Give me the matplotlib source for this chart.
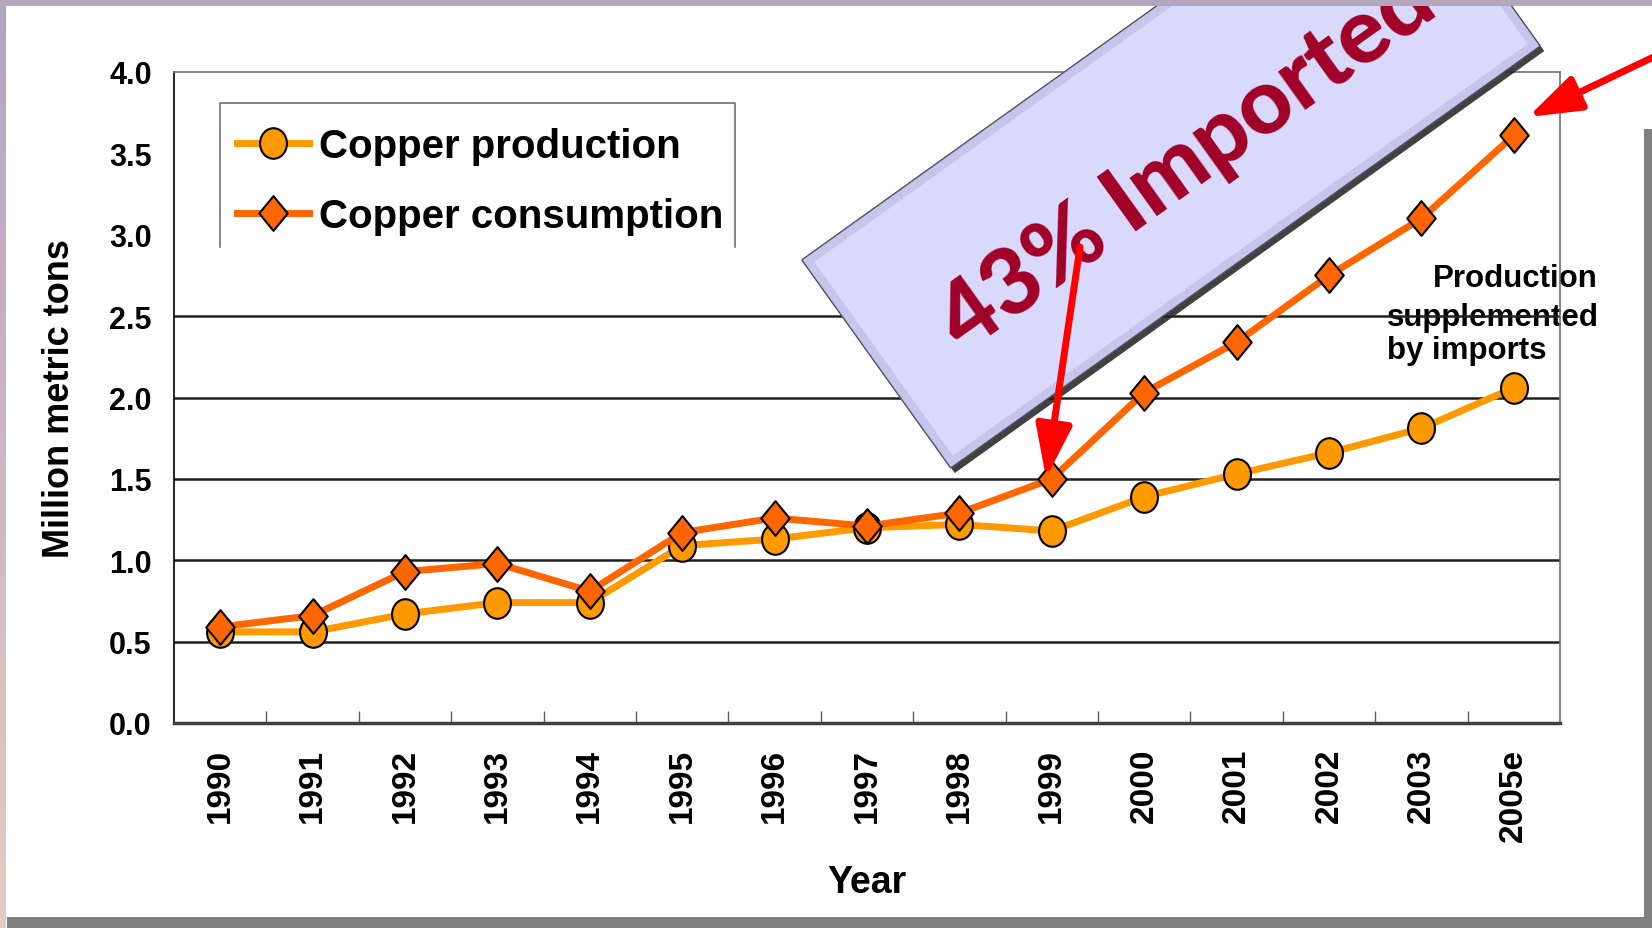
import numpy as np
import matplotlib
matplotlib.use('Agg')
import matplotlib.pyplot as plt
from matplotlib.patches import Polygon, Rectangle, FancyArrowPatch
from matplotlib.path import Path
from matplotlib.transforms import IdentityTransform
from matplotlib.colors import LinearSegmentedColormap

# values (million metric tons)
years = ['1990', '1991', '1992', '1993', '1994', '1995', '1996', '1997',
         '1998', '1999', '2000', '2001', '2002', '2003', '2005e']
production = [0.56, 0.56, 0.67, 0.74, 0.74, 1.09, 1.13, 1.20,
              1.22, 1.18, 1.39, 1.53, 1.66, 1.81, 2.06]
consumption = [0.59, 0.66, 0.93, 0.98, 0.81, 1.17, 1.26, 1.21,
               1.29, 1.50, 2.03, 2.34, 2.75, 3.10, 3.61]
y_ticks = [0.0, 0.5, 1.0, 1.5, 2.0, 2.5, 3.0, 3.5, 4.0]
grid_levels = [0.5, 1.0, 1.5, 2.0, 2.5]

W, H = 1652, 929
NARROW = ['Liberation Sans Narrow', 'Liberation Sans', 'DejaVu Sans']
WIDE = ['Liberation Sans', 'DejaVu Sans']
plt.rcParams['font.family'] = WIDE

fig = plt.figure(figsize=(W / 100, H / 100), dpi=100)
fig.patch.set_facecolor('white')
ax = fig.add_axes([174 / W, 1 - 724 / H, (1560 - 174) / W, (724 - 73) / H])

x = np.arange(len(years))

# slightly tall ellipse / diamond markers like the slide
ell = Path.unit_circle()
ell = Path(ell.vertices * [0.88, 1.0], ell.codes)
dia = Path([(0, 1), (0.82, 0), (0, -1), (-0.82, 0), (0, 1)],
           [Path.MOVETO, Path.LINETO, Path.LINETO, Path.LINETO, Path.CLOSEPOLY])

ax.plot(x, production, color='#FF9900', lw=5, marker=ell, ms=22,
        mfc='#FF9900', mec='black', mew=1.5, zorder=3, label='Copper production')
ax.plot(x, consumption, color='#FF6600', lw=5, marker=dia, ms=25,
        mfc='#FF6600', mec='black', mew=1.5, zorder=4, label='Copper consumption')

for lv in grid_levels:
    ax.axhline(lv, color='#202020', lw=1.8, zorder=1.5)

ax.set_xlim(-0.5, len(years) - 0.5)
ax.set_ylim(0, 4.0)
ax.set_yticks(y_ticks)
ax.set_yticklabels(['%.1f' % v for v in y_ticks], family=NARROW,
                   fontweight='bold', fontsize=22)
ax.set_xticks(x)
ax.set_xticklabels(years, rotation=90, fontweight='bold', fontsize=24)
ax.set_xticks(np.arange(0.5, len(years) - 1, 1), minor=True)
ax.tick_params(axis='x', which='major', length=0, pad=18)
ax.tick_params(axis='x', which='minor', direction='in', length=9,
               color='#606060', width=1)
ax.tick_params(axis='y', length=0, pad=16)

for s in ['top', 'right']:
    ax.spines[s].set_color('#707070')
    ax.spines[s].set_linewidth(1.2)
ax.spines['left'].set_color('black')
ax.spines['left'].set_linewidth(1.2)
ax.spines['bottom'].set_color('#404040')
ax.spines['bottom'].set_linewidth(2.5)

ax.set_ylabel('Million metric tons', fontsize=26, fontweight='bold', va='center')
ax.yaxis.set_label_coords((60 - 174) / 1386, 0.5)
ax.set_xlabel('Year', fontsize=27, fontweight='bold', family=NARROW, va='center')
ax.xaxis.set_label_coords(0.5, (724 - 883) / 651)

leg = ax.legend(loc='upper left', bbox_to_anchor=(0.0285, 0.952), borderaxespad=0,
                frameon=False, prop={'size': 29, 'weight': 'bold'},
                handlelength=1.8, handletextpad=0.25, labelspacing=0.8,
                borderpad=0.58)
leg.set_zorder(6)
# three-sided legend box, bottom edge missing in the original
ax.plot([0.0332, 0.0332, 0.405, 0.405], [0.731, 0.952, 0.952, 0.731],
        transform=ax.transAxes, color='#707070', lw=1.2, clip_on=False, zorder=6)

# side note (the 2.5 gridline runs through it)
ax.text(1598, 642, 'Production', transform=IdentityTransform(), ha='right',
        va='baseline', fontsize=22.5, fontweight='bold', zorder=1, clip_on=False)
ax.text(1387, 603, 'supplemented', transform=IdentityTransform(), ha='left',
        va='baseline', fontsize=22.5, fontweight='bold', zorder=1, clip_on=False)
ax.text(1387, 570, 'by imports', transform=IdentityTransform(), ha='left',
        va='baseline', fontsize=22.5, fontweight='bold', zorder=1, clip_on=False)


def rect_corners(cx, cy, length, width, ang):
    a = np.deg2rad(ang)
    u = np.array([np.cos(a), np.sin(a)]) * length / 2
    v = np.array([-np.sin(a), np.cos(a)]) * width / 2
    c = np.array([cx, cy])
    return np.array([c - u - v, c + u - v, c + u + v, c - u + v])


# tilted banner
ang = 35.6
cx, cy = 1171, 775
fig.add_artist(Polygon(rect_corners(cx + 4, cy - 5, 725, 256, ang),
                       closed=True, fc='#202020', ec='none', alpha=0.85,
                       transform=IdentityTransform(), zorder=2))
fig.add_artist(Polygon(rect_corners(cx, cy, 725, 256, ang), closed=True,
                       fc='#c6c6ec', ec='#505060', lw=1,
                       transform=IdentityTransform(), zorder=2.1))
fig.add_artist(Polygon(rect_corners(cx, cy, 707, 238, ang), closed=True,
                       fc='#d9d9fb', ec='none',
                       transform=IdentityTransform(), zorder=2.2))
fig.text(965, 575, '43% Imported', transform=IdentityTransform(),
         rotation=ang, rotation_mode='anchor', ha='left', va='baseline',
         fontsize=66, fontweight='black', family=['Lato', 'Liberation Sans'],
         color='#a00028', zorder=4)

# red arrows
for tail, head in [((1080, 681), (1046, 450)), ((1664, 876), (1528, 811))]:
    fig.add_artist(FancyArrowPatch(tail, head, transform=IdentityTransform(),
                                   arrowstyle='-|>,head_length=1.6,head_width=0.55',
                                   mutation_scale=20, lw=5, color='#ff0000',
                                   shrinkA=0, shrinkB=0, zorder=5))

# slide frame
fig.add_artist(Rectangle((0, 1 - 7 / H), 1, 7 / H, transform=fig.transFigure,
                         fc='#b3a6bd', ec='none', zorder=7))
fig.add_artist(Rectangle((7 / W, 0), 1, 11 / H, transform=fig.transFigure,
                         fc='#808080', ec='none', zorder=7))
fig.add_artist(Rectangle((1 - 8 / W, 0), 8 / W, 1 - 130 / H,
                         transform=fig.transFigure, fc='#808080', ec='none', zorder=7))
band = fig.add_axes([0, 0, 6 / W, 1 - 7 / H], zorder=8)
cmap = LinearSegmentedColormap.from_list('band', ['#e6cbc2', '#b4a4c4'])
band.imshow(np.linspace(0, 1, 256)[:, None], aspect='auto', cmap=cmap, origin='lower')
band.axis('off')

fig.savefig('out.png', dpi=100)
